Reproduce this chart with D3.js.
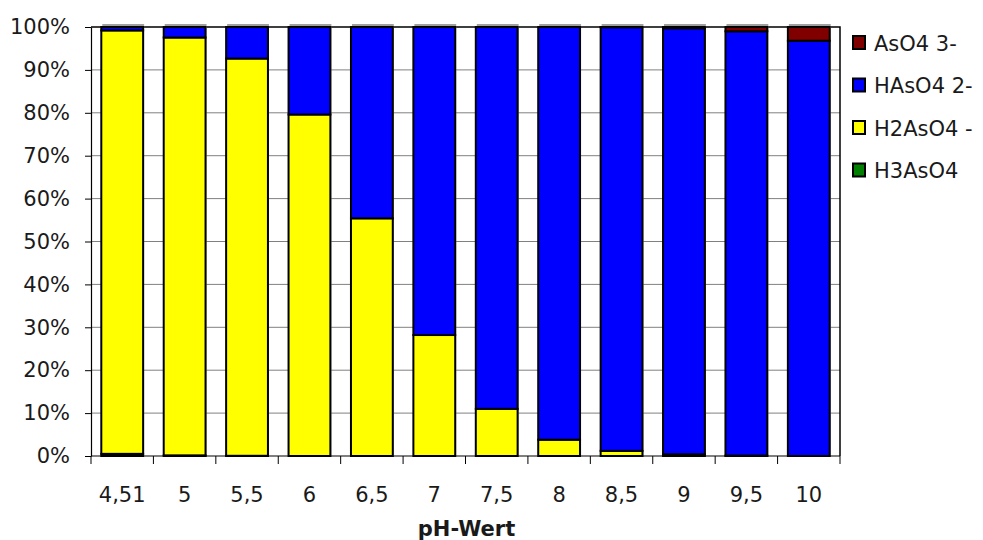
<!DOCTYPE html>
<html>
<head>
<meta charset="utf-8">
<script src="https://cdn.jsdelivr.net/npm/d3@7"></script>
<style>
  html, body { margin: 0; padding: 0; background: #fff; }
  svg { display: block; font-family: "DejaVu Sans", "Noto Sans", sans-serif; }
</style>
</head>
<body>
<svg id="chart" width="983" height="540"></svg>
<script>
// pH values on the category axis
const categories = ["4,51", "5", "5,5", "6", "6,5", "7", "7,5", "8", "8,5", "9", "9,5", "10"];

// Species fractions (%) per pH, bottom to top of each stack
const h3aso4  = [0.5, 0.15, 0.05, 0, 0, 0, 0, 0, 0, 0, 0, 0];
const h2aso4  = [98.7, 97.4, 92.6, 79.6, 55.4, 28.2, 11.0, 3.8, 1.2, 0.4, 0.1, 0];
const haso4   = [0.8, 2.45, 7.35, 20.4, 44.6, 71.8, 89.0, 96.2, 98.75, 99.3, 98.9, 96.8];
const aso4    = [0, 0, 0, 0, 0, 0, 0, 0, 0.05, 0.3, 1.0, 3.2];

const seriesNames = ["H3AsO4", "H2AsO4 -", "HAsO4 2-", "AsO4 3-"];
const seriesColors = ["#007f00", "#ffff00", "#0000ff", "#800000"];
const yTicks = [0, 10, 20, 30, 40, 50, 60, 70, 80, 90, 100];
const xTitle = "pH-Wert";

const svg = d3.select("#chart");
const m = { left: 91, right: 840, top: 27, bottom: 456 };
const FS = 21;

const rows = categories.map((c, i) => ({
  cat: c,
  "H3AsO4": h3aso4[i],
  "H2AsO4 -": h2aso4[i],
  "HAsO4 2-": haso4[i],
  "AsO4 3-": aso4[i]
}));

// normalise each column to 100 %
const stack = d3.stack().keys(seriesNames).offset(d3.stackOffsetExpand);
const layers = stack(rows);

const x = d3.scaleBand().domain(categories).range([m.left, m.right]).paddingInner(0.33).paddingOuter(0.165);
const y = d3.scaleLinear().domain([0, 1]).range([m.bottom, m.top]);
const color = d3.scaleOrdinal().domain(seriesNames).range(seriesColors);

// horizontal gridlines
svg.append("g").selectAll("line")
  .data(yTicks.slice(1, -1))
  .join("line")
  .attr("x1", m.left).attr("x2", m.right)
  .attr("y1", d => y(d / 100)).attr("y2", d => y(d / 100))
  .attr("stroke", "#808080").attr("stroke-width", 1);

// plot frame: top and right edges
svg.append("path")
  .attr("d", `M${m.left},${m.top}H${m.right}V${m.bottom}`)
  .attr("fill", "none").attr("stroke", "#000").attr("stroke-width", 1.5);

// soft shadow behind each column
svg.append("g").selectAll("rect")
  .data(categories)
  .join("rect")
  .attr("x", d => x(d) + 1)
  .attr("y", y(1) - 3)
  .attr("width", x.bandwidth())
  .attr("height", y(0) - y(1) + 4)
  .attr("fill", "#a0a0a0");

// stacked bars
svg.append("g").selectAll("g")
  .data(layers)
  .join("g")
  .attr("fill", d => color(d.key))
  .selectAll("rect")
  .data(d => d.filter(p => p[1] - p[0] > 0))
  .join("rect")
  .attr("x", d => x(d.data.cat))
  .attr("y", d => y(d[1]))
  .attr("width", x.bandwidth())
  .attr("height", d => y(d[0]) - y(d[1]))
  .attr("stroke", "#000")
  .attr("stroke-width", 2);

// y axis
const yAxis = d3.axisLeft(y)
  .tickValues(yTicks.map(v => v / 100))
  .tickFormat(d => Math.round(d * 100) + "%")
  .tickSize(6).tickSizeOuter(0).tickPadding(15);
const gy = svg.append("g").attr("transform", `translate(${m.left},0)`).call(yAxis);
gy.select(".domain").attr("stroke", "#000").attr("stroke-width", 1.2);
gy.selectAll(".tick line").attr("stroke", "#000");
gy.selectAll(".tick text").attr("font-size", FS).attr("fill", "#1a1a1a")
  .attr("font-family", "'DejaVu Sans', sans-serif");

// x axis with ticks on category boundaries
const gx = svg.append("g").attr("transform", `translate(0,${m.bottom})`);
gx.append("line").attr("x1", m.left).attr("x2", m.right).attr("stroke", "#000").attr("stroke-width", 1.2);
const step = x.step();
gx.selectAll("line.tk")
  .data(d3.range(categories.length + 1))
  .join("line").attr("class", "tk")
  .attr("x1", i => m.left + i * step).attr("x2", i => m.left + i * step)
  .attr("y1", 0).attr("y2", 8)
  .attr("stroke", "#000");
gx.selectAll("text")
  .data(categories)
  .join("text")
  .attr("x", d => x(d) + x.bandwidth() / 2)
  .attr("y", 46)
  .attr("text-anchor", "middle")
  .attr("font-size", FS)
  .attr("fill", "#1a1a1a")
  .text(d => d);

svg.append("text")
  .attr("x", (m.left + m.right) / 2 + 1)
  .attr("y", 536)
  .attr("text-anchor", "middle")
  .attr("font-size", FS)
  .attr("font-weight", "bold")
  .attr("fill", "#1a1a1a")
  .text(xTitle);

// legend, top entry is the top of the stack
const legendItems = seriesNames.slice().reverse();
const lg = svg.append("g").selectAll("g")
  .data(legendItems)
  .join("g")
  .attr("transform", (d, i) => `translate(853,${36 + i * 42.5})`);
lg.append("rect")
  .attr("width", 12).attr("height", 13)
  .attr("fill", d => color(d))
  .attr("stroke", "#000").attr("stroke-width", 2);
lg.append("text")
  .attr("x", 21).attr("y", 14.5)
  .attr("font-size", FS)
  .attr("fill", "#1a1a1a")
  .text(d => d);
</script>
</body>
</html>
